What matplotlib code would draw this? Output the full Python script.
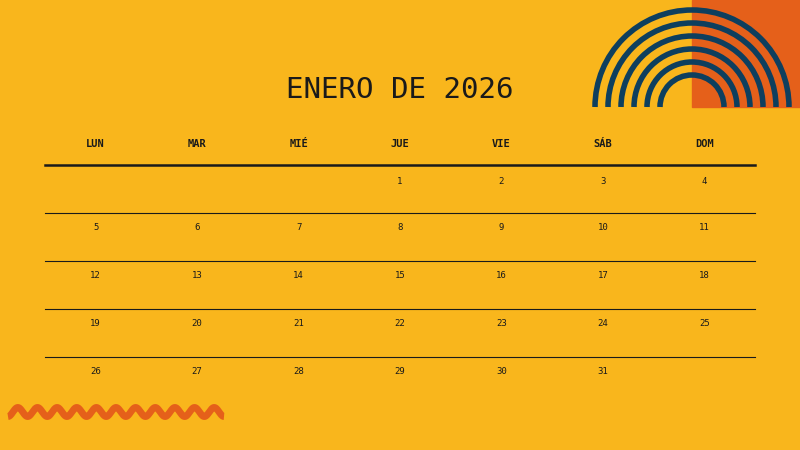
import matplotlib
matplotlib.use("Agg")
import matplotlib.pyplot as plt
import numpy as np
from matplotlib.patches import Rectangle, Arc

title = "ENERO DE 2026"
weekdays = ["LUN", "MAR", "MIÉ", "JUE", "VIE", "SÁB", "DOM"]
first_weekday = 3  # Thursday (0 = Monday)
n_days = 31

BG = "#F9B61C"
ORANGE = "#E5601A"
NAVY = "#0E3F5E"
INK = "#1A1A1A"

fig = plt.figure(figsize=(8, 4.5), dpi=100)
fig.patch.set_facecolor(BG)
ax = fig.add_axes([0, 0, 1, 1])
ax.set_xlim(0, 800)
ax.set_ylim(450, 0)
ax.axis("off")
ax.set_facecolor(BG)

# top-right decoration
ax.add_patch(Rectangle((692, 0), 108, 107, color=ORANGE, zorder=1))
for r in [97, 84, 71, 58, 45, 32]:
    ax.add_patch(Arc((692, 107), 2 * r, 2 * r, theta1=180, theta2=360,
                     color=NAVY, lw=4.0, zorder=2))

# wave
xw = np.linspace(8, 224, 600)
yw = 412 + 4.5 * np.cos((xw - 8) / 216 * 11 * 2 * np.pi)
ax.plot(xw, yw, color=ORANGE, lw=5, solid_capstyle="butt", zorder=2)

font = "DejaVu Sans Mono"
ax.text(400, 90, title, ha="center", va="center", fontsize=21, color=INK,
        family=font)

x0, x1 = 45, 755
cw = (x1 - x0) / 7
for i, d in enumerate(weekdays):
    ax.text(x0 + cw * (i + 0.5), 144, d, ha="center", va="center",
            fontsize=7.5, fontweight="bold", color=INK, family=font)
ax.plot([x0, x1], [165, 165], color=INK, lw=1.8)
row_lines = [213, 261, 309, 357]
for y in row_lines:
    ax.plot([x0, x1], [y, y], color=INK, lw=0.8)

row_y = [181, 228, 276, 324, 371]
for day in range(1, n_days + 1):
    idx = first_weekday + day - 1
    r, c = divmod(idx, 7)
    ax.text(x0 + cw * (c + 0.5), row_y[r], str(day), ha="center", va="center",
            fontsize=6.5, color=INK, family=font)

fig.savefig("out.png", dpi=100, facecolor=BG)
